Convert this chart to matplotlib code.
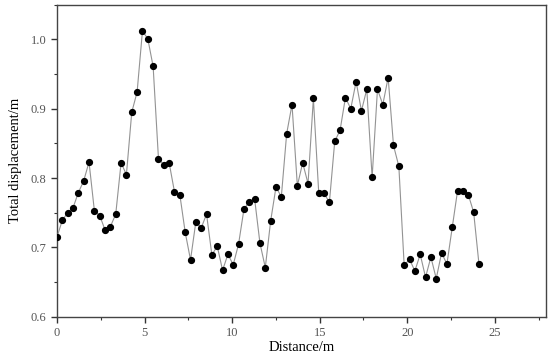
import matplotlib
matplotlib.use("Agg")
import matplotlib.pyplot as plt
import numpy as np
from matplotlib.ticker import MultipleLocator

# measuring points are spaced about 0.305 m apart
distance = np.round(np.arange(80) * 0.305, 3)
displacement = [
    0.715, 0.739, 0.750, 0.757, 0.779, 0.796, 0.823, 0.753, 0.746, 0.725,
    0.730, 0.748, 0.822, 0.805, 0.895, 0.924, 1.012, 1.001, 0.961, 0.828,
    0.819, 0.822, 0.780, 0.776, 0.722, 0.682, 0.737, 0.728, 0.748, 0.689,
    0.702, 0.667, 0.690, 0.675, 0.705, 0.755, 0.766, 0.770, 0.706, 0.671,
    0.738, 0.787, 0.773, 0.864, 0.906, 0.789, 0.822, 0.792, 0.915, 0.779,
    0.778, 0.765, 0.853, 0.869, 0.916, 0.900, 0.939, 0.897, 0.928, 0.801,
    0.928, 0.906, 0.945, 0.847, 0.817, 0.674, 0.683, 0.666, 0.690, 0.657,
    0.686, 0.655, 0.692, 0.676, 0.729, 0.782, 0.781, 0.776, 0.751, 0.676,
]

plt.rcParams['font.family'] = ['Liberation Serif', 'DejaVu Serif']

fig = plt.figure(figsize=(5.5, 3.62), dpi=100)
ax = fig.add_axes([0.1036, 0.125, 0.8884, 0.862])

ax.plot(distance, displacement, color='#939393', lw=0.8,
        marker='o', markersize=4.2, markerfacecolor='black',
        markeredgecolor='black', zorder=3)

ax.set_xlim(0, 27.9)
ax.set_ylim(0.6, 1.05)
ax.xaxis.set_major_locator(MultipleLocator(5))
ax.xaxis.set_minor_locator(MultipleLocator(2.5))
ax.yaxis.set_major_locator(MultipleLocator(0.1))
ax.yaxis.set_minor_locator(MultipleLocator(0.05))

ax.tick_params(which='major', direction='out', length=4, width=1,
               color='#333333', labelsize=9, labelcolor='#555555')
ax.tick_params(which='minor', direction='out', length=2.5, width=0.8,
               color='#333333')
ax.tick_params(top=False, right=False)
for s in ax.spines.values():
    s.set_color('#444444')
    s.set_linewidth(1.0)

ax.set_xlabel('Distance/m', fontsize=10.5, labelpad=1)
ax.set_ylabel('Total displacement/m', fontsize=10.5, labelpad=6)

fig.savefig('out.png', dpi=100)
